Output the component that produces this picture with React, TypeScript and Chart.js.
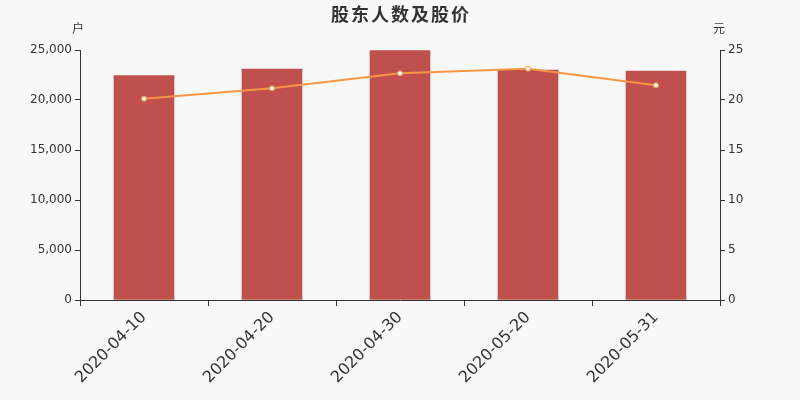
import React, { useEffect, useRef } from "react";
import { Chart, registerables } from "chart.js";

Chart.register(...registerables);

const categories = ["2020-04-10", "2020-04-20", "2020-04-30", "2020-05-20", "2020-05-31"];
const holders = [22430, 23100, 24950, 23000, 22900];
const prices = [20.13, 21.17, 22.67, 23.13, 21.47];
const leftTicks = [0, 5000, 10000, 15000, 20000, 25000];
const rightTicks = [0, 5, 10, 15, 20, 25];

const textPlugin = {
  id: "texts",
  afterDraw(chart: any) {
    const ctx = chart.ctx;
    ctx.save();
    ctx.fillStyle = "#333";
    ctx.textAlign = "center";
    ctx.textBaseline = "middle";
    ctx.font = "bold 18px 'Noto Sans CJK SC'";
    (ctx as any).letterSpacing = "2px";
    ctx.fillText("股东人数及股价", 401, 14);
    (ctx as any).letterSpacing = "0px";
    ctx.font = "12px 'Noto Sans CJK SC'";
    ctx.fillText("户", 78, 28);
    ctx.fillText("元", 719, 28);
    ctx.restore();
  },
};

const bgPlugin = {
  id: "bg",
  beforeDraw(chart: any) {
    const ctx = chart.ctx;
    ctx.save();
    ctx.fillStyle = "#f8f8f8";
    ctx.fillRect(0, 0, chart.width, chart.height);
    ctx.restore();
  },
};

export default function App() {
  const ref = useRef<HTMLCanvasElement>(null);
  useEffect(() => {
    if (!ref.current) return;
    const font = { family: "'DejaVu Sans'", size: 12 };
    const chart = new Chart(ref.current, {
      type: "bar",
      data: {
        labels: categories,
        datasets: [
          {
            type: "line",
            data: prices,
            yAxisID: "y1",
            borderColor: "#f79646",
            borderWidth: 2,
            pointRadius: 2.5,
            pointBackgroundColor: "#ffffff",
            pointBorderColor: "#f79646",
            pointBorderWidth: 1,
            tension: 0,
            order: 0,
          } as any,
          {
            type: "bar",
            data: holders,
            yAxisID: "y",
            backgroundColor: "#c0504d",
            barThickness: 60,
            order: 1,
          },
        ],
      },
      options: {
        animation: false,
        responsive: false,
        layout: { padding: { top: 50, left: 0, right: 0, bottom: 0 } },
        plugins: { legend: { display: false }, tooltip: { enabled: false }, title: { display: false } },
        scales: {
          x: {
            offset: true,
            grid: { offset: true, drawOnChartArea: false, drawTicks: true, tickLength: 6, color: "#333" },
            border: { display: true, color: "#333" },
            ticks: { color: "#333", font: { family: "'DejaVu Sans'", size: 16 }, minRotation: 45, maxRotation: 45, padding: 2 },
            afterFit(s: any) { s.height = 100; },
          },
          y: {
            position: "left",
            min: 0,
            max: 25000,
            afterBuildTicks(s: any) { s.ticks = leftTicks.map((v) => ({ value: v })); },
            grid: { drawOnChartArea: false, drawTicks: true, tickLength: 5, color: "#333" },
            border: { display: true, color: "#333" },
            ticks: { color: "#333", font, padding: 3, callback: (v: any) => Number(v).toLocaleString("en-US") },
            afterFit(s: any) { s.width = 80; },
          },
          y1: {
            position: "right",
            min: 0,
            max: 25,
            afterBuildTicks(s: any) { s.ticks = rightTicks.map((v) => ({ value: v })); },
            grid: { drawOnChartArea: false, drawTicks: true, tickLength: 5, color: "#333" },
            border: { display: true, color: "#333" },
            ticks: { color: "#333", font, padding: 3 },
            afterFit(s: any) { s.width = 80; },
          },
        },
      },
      plugins: [bgPlugin, textPlugin],
    });
    return () => chart.destroy();
  }, []);
  return (
    <div style={{ position: "fixed", left: 0, top: 0, width: 800, height: 400 }}>
      <canvas ref={ref} width={800} height={400} style={{ width: 800, height: 400, display: "block" }} />
    </div>
  );
}
